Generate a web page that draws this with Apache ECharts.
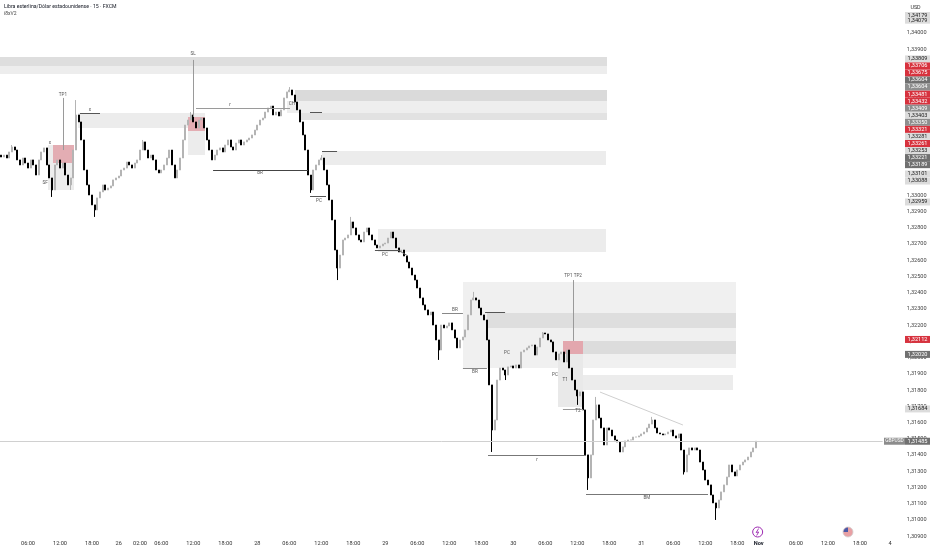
<!DOCTYPE html>
<html><head><meta charset="utf-8">
<script src="https://cdn.jsdelivr.net/npm/echarts@6/dist/echarts.min.js"></script>
<style>html,body{margin:0;padding:0;background:#fff}#c{width:932px;height:550px}</style>
</head><body><div id="c"></div>
<script>
// ---- data: 30-minute bars GBPUSD ----
const firstOpen = 1.33248;
const closes = [
1.33236,1.33248,1.33230,1.33267,1.33298,1.33279,1.33218,1.33187,1.33230,1.33199,1.33168,1.33218,
1.33187,1.33125,1.33218,1.33267,1.33292,1.33187,1.33107,1.33033,1.33187,1.33218,1.33168,1.33199,
1.33125,1.33064,1.33107,1.33279,1.33495,1.33452,1.33341,1.33156,1.33064,1.33002,1.32941,1.32910,
1.32984,1.33021,1.33064,1.33033,1.33045,1.33058,1.33095,1.33107,1.33119,1.33156,1.33168,1.33205,
1.33187,1.33168,1.33199,1.33218,1.33279,1.33329,1.33279,1.33230,1.33248,1.33218,1.33156,1.33138,
1.33156,1.33187,1.33230,1.33279,1.33187,1.33107,1.33156,1.33230,1.33341,1.33433,1.33464,1.33495,
1.33452,1.33415,1.33464,1.33476,1.33415,1.33341,1.33279,1.33218,1.33248,1.33279,1.33292,1.33267,
1.33310,1.33341,1.33298,1.33279,1.33322,1.33341,1.33310,1.33329,1.33341,1.33353,1.33372,1.33402,
1.33433,1.33464,1.33476,1.33513,1.33538,1.33550,1.33495,1.33513,1.33489,1.33526,1.33600,1.33637,
1.33649,1.33618,1.33575,1.33526,1.33452,1.33372,1.33279,1.33125,1.33033,1.33156,1.33187,1.33218,
1.33230,1.33156,1.33064,1.32971,1.32848,1.32663,1.32552,1.32632,1.32725,1.32737,1.32756,1.32836,
1.32799,1.32756,1.32725,1.32713,1.32774,1.32799,1.32756,1.32725,1.32694,1.32676,1.32688,1.32700,
1.32706,1.32737,1.32774,1.32737,1.32676,1.32651,1.32663,1.32626,1.32589,1.32552,1.32509,1.32478,
1.32429,1.32368,1.32325,1.32294,1.32263,1.32281,1.32201,1.32109,1.32047,1.32201,1.32183,1.32195,
1.32214,1.32171,1.32121,1.32060,1.32109,1.32127,1.32171,1.32263,1.32355,1.32368,1.32355,1.32306,
1.32263,1.32232,1.32109,1.31832,1.31554,1.31616,1.31862,1.31936,1.31924,1.31893,1.31943,1.31949,
1.31936,1.31955,1.31936,1.32035,1.32047,1.32060,1.32072,1.32078,1.32016,1.32066,1.32121,1.32152,
1.32146,1.32109,1.32097,1.32035,1.31986,1.32023,1.32035,1.31973,1.32047,1.31936,1.31862,1.31801,
1.31764,1.31789,1.31678,1.31401,1.31259,1.31401,1.31616,1.31709,1.31628,1.31567,1.31462,1.31567,
1.31554,1.31518,1.31493,1.31481,1.31419,1.31450,1.31487,1.31493,1.31493,1.31511,1.31511,1.31518,
1.31530,1.31542,1.31567,1.31591,1.31616,1.31567,1.31536,1.31530,1.31524,1.31530,1.31542,1.31554,
1.31518,1.31505,1.31530,1.31431,1.31296,1.31401,1.31444,1.31431,1.31444,1.31431,1.31357,1.31308,
1.31246,1.31216,1.31154,1.31105,1.31074,1.31123,1.31173,1.31216,1.31265,1.31339,1.31296,1.31271,
1.31308,1.31339,1.31357,1.31370,1.31388,1.31419,1.31444,1.31485
];
const highs = {4:1.33310,28:1.33587,53:1.33341,71:1.33513,108:1.33667,120:1.33248,131:1.32867,177:1.32405,203:1.32158,223:1.31758,244:1.31635};
const lows  = {19:1.32990,26:1.33033,35:1.32867,116:1.33015,126:1.32478,164:1.31986,184:1.31419,189:1.31862,216:1.31709,220:1.31185,256:1.31280,268:1.31000};
const slotCount = 331;
const tickIdx = [10,22,34,44,52,60,72,84,96,108,120,132,144,156,168,180,192,204,216,228,240,252,264,276,284,298,310,322];
const tickTxt = ['06:00','12:00','18:00','26','02:00','06:00','12:00','18:00','28','06:00','12:00','18:00','29','06:00','12:00','18:00','30','06:00','12:00','18:00','31','06:00','12:00','18:00','Nov','06:00','12:00','18:00'];
const extraTick = {idx:334, txt:'4'};
const yMin = 1.309, yMax = 1.342, yStep = 0.001;

// drawings (bar index, price)
const zones = [
 [-0.5,227.1,1.33852,1.33797],[-0.5,227.1,1.33797,1.33747],
 [28.75,72.6,1.33507,1.33415],[70,76.4,1.33507,1.33248],[70,76.4,1.33483,1.33396],
 [17.5,27.25,1.33310,1.33033],[19.4,27.25,1.33310,1.33199],
 [107.1,227.1,1.33581,1.33507],[110.1,227.1,1.33649,1.33581],[112,227.1,1.33507,1.33464],
 [120.25,226.75,1.33273,1.33187],[141.25,226.75,1.32793,1.32651],
 [173.1,275.5,1.32466,1.31936],[182.1,275.5,1.32275,1.32183],[210.6,275.5,1.32103,1.32020],
 [208.75,218.1,1.32020,1.31696],[210.6,218.1,1.32103,1.32020],[218.1,274.4,1.31893,1.31801]
];
const zoneFill = ['#dedede','#ededed','#ececec','#ececec','#e3adb3','#ececec','#e3adb3',
 '#eeeeee','#dadada','#e2e2e2','#ececec','#ececec','#f0f0f0','#dedede','#dcdcdc','#e9e9e9','#e3a7ae','#ececec'];
const segs = [
 [71.9,1.33834,71.9,1.33483],[23.1,1.33600,23.1,1.33279],[214.4,1.32478,214.4,1.32103],
 [73,1.33538,108.25,1.33538],[79.4,1.33156,115,1.33156],[115.75,1.32996,121.75,1.32996],
 [140.1,1.32663,148.75,1.32663],[148.75,1.32663,152.5,1.32626],[182.5,1.31400,219.25,1.31400],
 [219.25,1.31160,265,1.31160],[224.5,1.31788,255.6,1.31585],[165.25,1.32275,173.1,1.32275],
 [173.1,1.31936,182.1,1.31936],[210.6,1.31684,218.1,1.31684],
 [29.5,1.33507,37,1.33507],[115.75,1.33513,120.25,1.33513],[120.25,1.33273,125.9,1.33273],[181.4,1.32281,188.9,1.32281],
 [-0.5,1.31485,330.5,1.31485]
];
const segColor = ['#9a9a9a','#9a9a9a','#9a9a9a','#9a9a9a','#444','#555','#555','#777','#777','#777','#cfcfcf','#888','#888','#999',
 '#555','#555','#555','#555','#d0d0d0'];
const notes = [[71.9,1.33870],[23.1,1.33622],[214.4,1.32506],[97,1.33137],[109,1.33563],[119.1,1.32965],[143.9,1.32632],
 [170.1,1.32294],[177.6,1.31910],[189.6,1.32029],[207.6,1.31893],[211.4,1.31862],[216.25,1.31671],[242.1,1.31135],
 [200.9,1.31370],[33.25,1.33525],[18.25,1.33322],[16.4,1.33076],[85.75,1.33556]];
const noteTxt = ['SL','TP1','TP1 TP2','BR','CH','PC','PC','BR','BR','PC','PC','T1','T2','BM','r','x','x','SF','r'];
// right price-scale labels
const tagPrice = [1.34179,1.34079,1.33809,1.33706,1.33675,1.33604,1.33604,1.33481,1.33432,1.33409,1.33403,1.33350,1.33321,
 1.33281,1.33261,1.33253,1.33221,1.33189,1.33101,1.33088,1.32959,1.32112,1.32020,1.31684,1.31485];
const tagKind = ['l','l','l','r','r','d','g','r','r','g','l','g','r','l','r','l','d','d','l','l','l','r','d','l','d'];

// ---- build ----
const ohlc = closes.map((c,i)=>{
  const o = i===0 ? firstOpen : closes[i-1];
  const hi = highs[i]!==undefined ? highs[i] : Math.max(o,c);
  const lo = lows[i]!==undefined ? lows[i] : Math.min(o,c);
  return [o,c,lo,hi];
});
const tickMap = new Map(tickIdx.map((v,i)=>[v,tickTxt[i]]));
const FONT = 'Roboto, "Noto Sans", sans-serif';
const AX = 5.6;
const chart = echarts.init(document.getElementById('c'));
const crisp = v => Math.round(v)+0.5;

chart.setOption({
  animation:false,
  grid:{left:0,right:49.33,top:0.53,bottom:13.8,containLabel:false},
  xAxis:[{type:'category',data:Array.from({length:slotCount},(_,i)=>i),boundaryGap:true,
    axisLine:{show:false},axisTick:{show:false},splitLine:{show:false},
    axisLabel:{interval:(i)=>tickMap.has(i),formatter:(v,i)=>{const t=tickMap.get(Number(v));return t==='Nov'?'{b|Nov}':t;},
      fontSize:AX,color:'#333',margin:4,fontFamily:FONT,rich:{b:{fontWeight:'bold',fontSize:AX,color:'#131722',fontFamily:FONT}}}},
   {type:'value',min:-0.5,max:slotCount-0.5,show:false}],
  yAxis:[{type:'value',position:'right',min:yMin,max:yMax,interval:yStep,scale:true,
    axisLine:{show:false},axisTick:{show:false},splitLine:{show:false},
    axisLabel:{formatter:v=>v.toFixed(5).replace('.',','),fontSize:AX,color:'#444',margin:24,fontFamily:FONT,showMaxLabel:false}}],
  series:[
   {type:'custom',xAxisIndex:1,yAxisIndex:0,z:1,data:zones,encode:{x:[0,1],y:[2,3]},silent:true,
    renderItem:(p,api)=>{const a=api.coord([api.value(0),api.value(2)]),b=api.coord([api.value(1),api.value(3)]);
      return {type:'rect',shape:{x:Math.round(a[0]),y:Math.round(a[1]),width:Math.round(b[0])-Math.round(a[0]),height:Math.round(b[1])-Math.round(a[1])},style:{fill:zoneFill[p.dataIndex]}};}},
   {type:'candlestick',xAxisIndex:0,yAxisIndex:0,z:2,data:ohlc,barWidth:'65%',
    itemStyle:{color:'#b4b4b4',color0:'#000000',borderColor:'#b4b4b4',borderColor0:'#000000',borderWidth:1}},
   {type:'custom',xAxisIndex:1,yAxisIndex:0,z:3,data:segs,encode:{x:[0,2],y:[1,3]},silent:true,
    renderItem:(p,api)=>{const a=api.coord([api.value(0),api.value(1)]),b=api.coord([api.value(2),api.value(3)]);
      const h=a[1]===b[1], v=a[0]===b[0];
      return {type:'line',shape:{x1:v?crisp(a[0]):a[0],y1:h?crisp(a[1]):a[1],x2:v?crisp(b[0]):b[0],y2:h?crisp(b[1]):b[1]},style:{stroke:segColor[p.dataIndex],lineWidth:1}};}},
   {type:'custom',xAxisIndex:1,yAxisIndex:0,z:4,data:notes,encode:{x:0,y:1},silent:true,
    renderItem:(p,api)=>{const a=api.coord([api.value(0),api.value(1)]);
      return {type:'text',style:{text:noteTxt[p.dataIndex],x:a[0],y:a[1],fill:'#555',font:'4.6px '+FONT,align:'center',verticalAlign:'middle'}};}}
  ]
});

// price-scale tags, stacked bottom-up like the platform does
const H = 7.05;
const ys = tagPrice.map(p=>chart.convertToPixel({yAxisIndex:0},p));
for(let i=ys.length-2;i>=0;i--){ ys[i]=Math.min(ys[i], ys[i+1]-H); }
for(let i=0;i<ys.length;i++){ ys[i]=Math.max(ys[i],15.5); }
const kindStyle = {l:['#dcdcdc','#222'],r:['#d7323e','#fff'],d:['#707070','#fff'],g:['#8e8e8e','#fff']};
const g = [];
ys.forEach((y,i)=>{
  const st = kindStyle[tagKind[i]];
  g.push({type:'rect',shape:{x:905,y:y-3.5,width:25,height:7},style:{fill:st[0]},z:100});
  g.push({type:'text',style:{text:tagPrice[i].toFixed(5).replace('.',','),x:917.5,y:y,fill:st[1],font:'5.6px '+FONT,align:'center',verticalAlign:'middle'},z:101});
});
const lastY = chart.convertToPixel({yAxisIndex:0},closes[closes.length-1]);
g.push({type:'rect',shape:{x:884,y:lastY-3.5,width:21,height:7},style:{fill:'#8c8c8c'},z:100});
g.push({type:'text',style:{text:'GBPUSD',x:894.5,y:lastY,fill:'#fff',font:'4.8px '+FONT,align:'center',verticalAlign:'middle'},z:101});
g.push({type:'text',style:{text:'USD',x:915.5,y:7.5,fill:'#333',font:'5.4px '+FONT,align:'center',verticalAlign:'middle'},z:101});
g.push({type:'text',style:{text:'Libra esterlina/Dólar estadounidense · 15 · FXCM',x:4,y:6.5,fill:'#131722',font:'5.2px '+FONT,verticalAlign:'middle'},z:101});
g.push({type:'text',style:{text:'i8xV2',x:4,y:14,fill:'#444',font:'5px '+FONT,verticalAlign:'middle'},z:101});
const xe = chart.convertToPixel({xAxisIndex:1},extraTick.idx);
g.push({type:'text',style:{text:extraTick.txt,x:xe-2,y:544,fill:'#333',font:AX+'px '+FONT,align:'center',verticalAlign:'middle'},z:101});
// event markers
const xBolt = chart.convertToPixel({xAxisIndex:1},284);
g.push({type:'circle',shape:{cx:xBolt-1,cy:532,r:5},style:{fill:'#fff',stroke:'#9c27b0',lineWidth:1},z:101});
g.push({type:'polyline',shape:{points:[[xBolt,528.5],[xBolt-2.5,532.5],[xBolt,532],[xBolt-2,535.5]]},style:{stroke:'#9c27b0',fill:null,lineWidth:0.9},z:102});
const xFlag = chart.convertToPixel({xAxisIndex:1},317.5);
g.push({type:'circle',shape:{cx:xFlag,cy:532,r:5},style:{fill:'#e8a0a4',stroke:'#d0d0d0',lineWidth:0.8},z:101});
g.push({type:'sector',shape:{cx:xFlag,cy:532,r:4.5,r0:0,startAngle:Math.PI,endAngle:Math.PI*1.5},style:{fill:'#4a5aa8'},z:102});
chart.setOption({graphic:g});
</script></body></html>
